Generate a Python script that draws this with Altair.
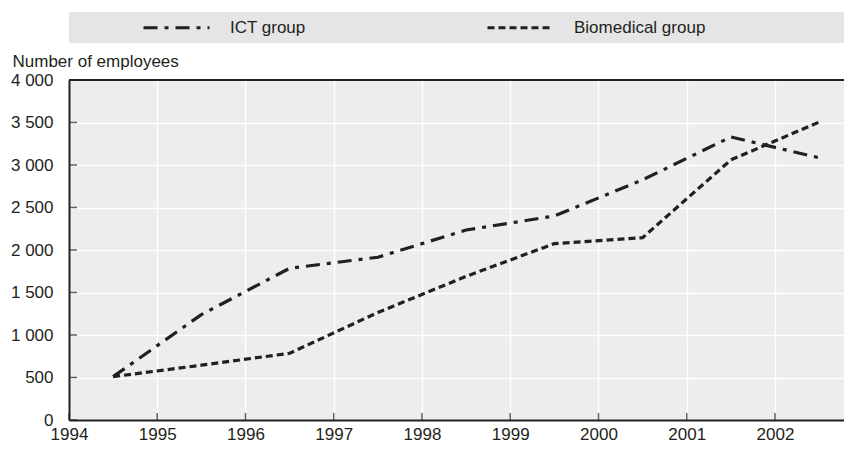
import altair as alt
import pandas as pd

# ---- data ----
positions = [1994.5, 1995.5, 1996.5, 1997.5, 1998.5, 1999.5, 2000.5, 2001.5, 2002.5]
ict = [510, 1240, 1785, 1915, 2235, 2400, 2825, 3330, 3085]
biomedical = [510, 645, 785, 1265, 1690, 2075, 2145, 3060, 3505]
series_names = ["ICT group", "Biomedical group"]
x_ticks = [1994, 1995, 1996, 1997, 1998, 1999, 2000, 2001, 2002]
y_ticks = [0, 500, 1000, 1500, 2000, 2500, 3000, 3500, 4000]

rows = []
for name, vals in zip(series_names, [ict, biomedical]):
    for p, v in zip(positions, vals):
        rows.append({"year": p, "value": v, "group": name})
df = pd.DataFrame(rows)

INK = "#231f20"
FONT = "Liberation Sans"
W, H = 775, 340
x_scale = alt.Scale(domain=[1994, 2002.782], nice=False, zero=False)
y_scale = alt.Scale(domain=[0, 4000], nice=False)

x_axis = alt.Axis(values=x_ticks, format="d", ticks=False, domainColor=INK,
                  domainWidth=2, grid=True, gridColor="white", gridWidth=1.5,
                  labelFont=FONT, labelFontSize=17, labelColor=INK,
                  labelPadding=6, labelFlush=False)
y_axis = alt.Axis(values=y_ticks, ticks=False, domainColor=INK, domainWidth=2,
                  grid=True, gridColor="white", gridWidth=1.5,
                  labelFont=FONT, labelFontSize=17, labelColor=INK, labelPadding=16,
                  labelExpr="replace(format(datum.value, ','), ',', ' ')",
                  titleAngle=0, titleAlign="left", titleBaseline="alphabetic",
                  titleX=-57, titleY=-14, titleFont=FONT, titleFontSize=17,
                  titleFontWeight="normal", titleColor=INK)

band = alt.Chart(pd.DataFrame({"k": [0]})).mark_rect(color="#e5e5e6").encode(
    x=alt.value(0), x2=alt.value(W), y=alt.value(-68), y2=alt.value(-37)
)
top_rule = alt.Chart(pd.DataFrame({"k": [0]})).mark_rule(color=INK, strokeWidth=2).encode(
    x=alt.value(0), x2=alt.value(W), y=alt.value(0)
)

lines = alt.Chart(df).mark_line(strokeWidth=3.2, color=INK).encode(
    x=alt.X("year:Q", scale=x_scale, axis=x_axis, title=None),
    y=alt.Y("value:Q", scale=y_scale, axis=y_axis, title="Number of employees"),
    strokeDash=alt.StrokeDash(
        "group:N",
        scale=alt.Scale(domain=series_names, range=[[14, 7, 4, 7], [7, 4]]),
        sort=series_names,
        title=None,
        legend=alt.Legend(orient="none", legendX=73, legendY=-87,
                          direction="horizontal", columns=2, columnPadding=175,
                          symbolType="stroke", symbolSize=4356,
                          symbolStrokeWidth=3, symbolStrokeColor=INK,
                          labelFont=FONT, labelFontSize=17, labelColor=INK,
                          labelOffset=19, padding=0),
    ),
)

xt = alt.Chart(pd.DataFrame({"year": x_ticks})).mark_tick(
    color=INK, size=7, thickness=1.5).encode(
    x=alt.X("year:Q", scale=x_scale, title=None), y=alt.value(H - 3.5))
yt = alt.Chart(pd.DataFrame({"value": y_ticks})).mark_tick(
    color=INK, size=8, thickness=1.5).encode(
    y=alt.Y("value:Q", scale=y_scale, title="Number of employees"), x=alt.value(4))

chart = alt.layer(band, lines, xt, yt, top_rule).properties(
    width=W, height=H,
    autosize=alt.AutoSizeParams(type="none"),
    padding={"left": 61, "top": 72, "right": 0, "bottom": 26},
).configure_view(fill="#ededed", strokeWidth=0)

chart.save("out.html", embed_options={"renderer": "svg", "actions": False})
